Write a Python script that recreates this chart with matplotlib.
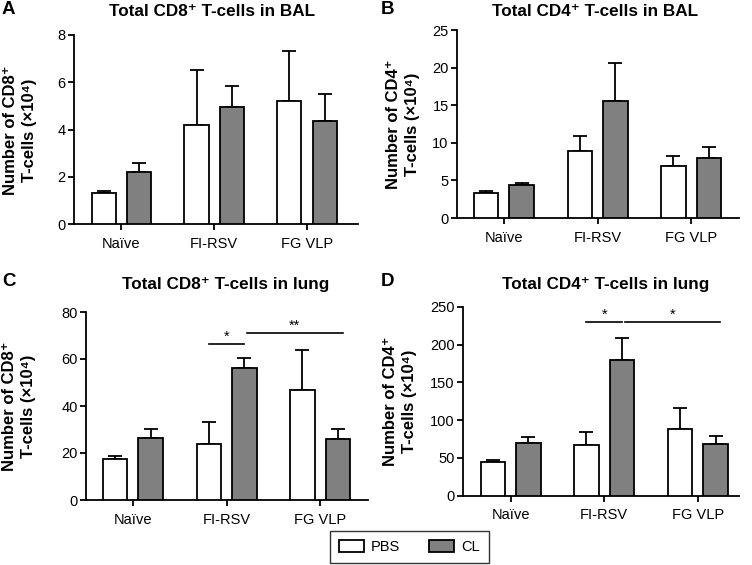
import numpy as np
import matplotlib
matplotlib.use('Agg')
import matplotlib.pyplot as plt
from matplotlib.patches import Patch

plt.rcParams['font.family'] = ['Liberation Sans', 'DejaVu Sans']

groups = ['Naïve', 'FI-RSV', 'FG VLP']
series = ['PBS', 'CL']

# A: CD8 BAL
a_pbs = [1.33, 4.20, 5.22]
a_pbs_err = [0.08, 2.32, 2.10]
a_cl = [2.22, 4.96, 4.38]
a_cl_err = [0.36, 0.89, 1.12]
# B: CD4 BAL
b_pbs = [3.3, 8.9, 6.9]
b_pbs_err = [0.3, 2.0, 1.4]
b_cl = [4.4, 15.5, 8.0]
b_cl_err = [0.2, 5.1, 1.5]
# C: CD8 lung
c_pbs = [17.3, 23.9, 46.9]
c_pbs_err = [1.5, 9.1, 16.9]
c_cl = [26.4, 56.1, 25.9]
c_cl_err = [3.9, 4.4, 4.2]
# D: CD4 lung
d_pbs = [44, 67, 88]
d_pbs_err = [3, 17, 28]
d_cl = [70, 179.5, 68]
d_cl_err = [8, 29.5, 11]

# significance: (group, series) -> (group, series), height, label
c_sig = [((1, 0), (1, 1), 66.4, '*'), ((1, 1), (2, 1), 71.2, '**')]
d_sig = [((1, 0), (1, 1), 230, '*'), ((1, 1), (2, 1), 230, '*')]

W, H = 752, 565
fig = plt.figure(figsize=(W / 100, H / 100), dpi=100)

off = 0.19
bw = 0.26
lw = 1.3
colors = ['white', '#808080']
tick_fs = 10.5


def px_axes(l, r, t, b):
    return fig.add_axes([l / W, 1 - b / H, (r - l) / W, (b - t) / H])


def panel(box, xlim, ymax, ystep, pbs, pbs_err, cl, cl_err, sig=None):
    ax = px_axes(*box)
    x = np.arange(len(groups))
    for k, (vals, errs) in enumerate(((pbs, pbs_err), (cl, cl_err))):
        pos = x + (k * 2 - 1) * off
        ax.bar(pos, vals, bw, color=colors[k], edgecolor='black', linewidth=lw, zorder=3)
        ax.errorbar(pos, vals, yerr=[np.zeros(len(vals)), errs], fmt='none',
                    ecolor='black', elinewidth=lw, capsize=5, capthick=lw, zorder=2)
    ax.set_xlim(*xlim)
    ax.set_ylim(0, ymax)
    ax.set_yticks(np.arange(0, ymax + ystep / 2, ystep))
    ax.set_xticks(x)
    ax.set_xticklabels(groups)
    for s in ('top', 'right'):
        ax.spines[s].set_visible(False)
    for s in ('left', 'bottom'):
        ax.spines[s].set_linewidth(lw)
    ax.tick_params(direction='out', length=4, width=lw, labelsize=tick_fs, pad=2)
    ax.tick_params(axis='x', pad=5)
    if sig:
        for (g0, s0), (g1, s1), h, lab in sig:
            x0 = g0 + (s0 * 2 - 1) * off
            x1 = g1 + (s1 * 2 - 1) * off
            if g1 != g0:
                x0 += 0.03
                x1 += 0.05
            ax.plot([x0, x1], [h, h], color='black', lw=1.2, clip_on=False)
            ax.text((x0 + x1) / 2, h, lab, ha='center', va='bottom', fontsize=10.5)
    return ax


panel((74, 358, 35, 224), (-0.51, 2.55), 8, 2, a_pbs, a_pbs_err, a_cl, a_cl_err)
panel((457, 739, 30, 218), (-0.50, 2.51), 25, 5, b_pbs, b_pbs_err, b_cl, b_cl_err)
panel((86, 368, 312, 500), (-0.50, 2.51), 80, 20, c_pbs, c_pbs_err, c_cl, c_cl_err, c_sig)
panel((463, 739, 306.7, 495.7), (-0.51, 2.44), 250, 50, d_pbs, d_pbs_err, d_cl, d_cl_err, d_sig)

titles = ['Total CD8⁺ T-cells in BAL', 'Total CD4⁺ T-cells in BAL',
          'Total CD8⁺ T-cells in lung', 'Total CD4⁺ T-cells in lung']
title_xy = [(212, 11), (595, 11), (226, 285), (606, 285)]
for txt, (tx, ty) in zip(titles, title_xy):
    fig.text(tx / W, 1 - ty / H, txt, ha='center', va='center', fontsize=12.3, fontweight='bold')

ylabels = ['Number of CD8⁺\nT-cells (×10⁴)', 'Number of CD4⁺\nT-cells (×10⁴)',
           'Number of CD8⁺\nT-cells (×10⁴)', 'Number of CD4⁺\nT-cells (×10⁴)']
ylabel_xy = [(20, 130), (403, 124), (19, 406), (400, 401)]
for txt, (tx, ty) in zip(ylabels, ylabel_xy):
    fig.text(tx / W, 1 - ty / H, txt, ha='center', va='center', rotation=90,
             fontsize=12, fontweight='bold', linespacing=1.3)

letters = ['A', 'B', 'C', 'D']
letter_xy = [(2, 10), (381, 10), (2, 282), (381, 282)]
for txt, (tx, ty) in zip(letters, letter_xy):
    fig.text(tx / W, 1 - ty / H, txt, ha='left', va='center', fontsize=13.5, fontweight='bold')

handles = [Patch(facecolor=colors[k], edgecolor='black', linewidth=lw) for k in range(2)]
leg = fig.legend(handles, series, loc='center', bbox_to_anchor=(409.5 / W, 1 - 547 / H),
                 ncol=2, fontsize=tick_fs, frameon=True, fancybox=False, edgecolor='black',
                 handlelength=1.7, handleheight=0.8, columnspacing=2.0, handletextpad=0.5,
                 borderpad=0.6, borderaxespad=0)
leg.get_frame().set_linewidth(1.0)

fig.savefig('out.png', dpi=100)
